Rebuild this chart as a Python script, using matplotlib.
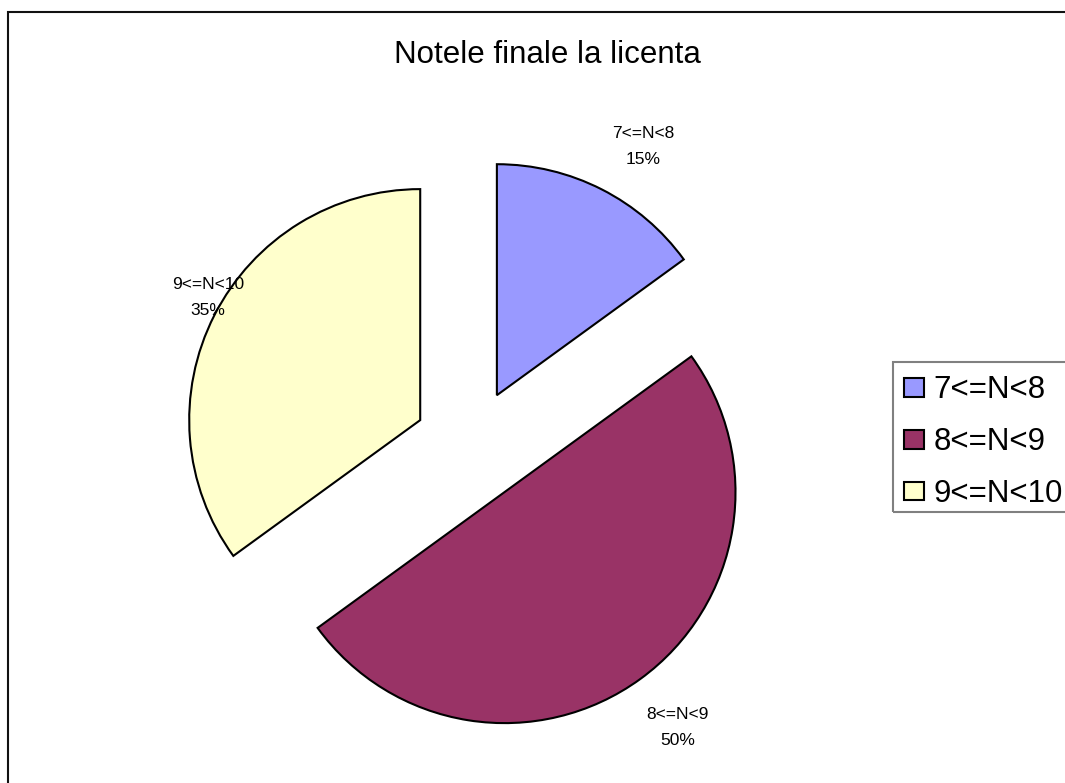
import numpy as np
import matplotlib
matplotlib.use("Agg")
import matplotlib.pyplot as plt
from matplotlib.patches import Rectangle

plt.rcParams['font.family'] = ['Liberation Sans', 'DejaVu Sans']

# data
categories = ["7<=N<8", "8<=N<9", "9<=N<10"]
values = [15, 50, 35]
colors = ["#9999FF", "#993366", "#FFFFCC"]
title = "Notele finale la licenta"

W, H = 1065, 783
fig = plt.figure(figsize=(W / 100, H / 100), dpi=100)
ax = fig.add_axes([0, 0, 1, 1])

radius = 231
center = (471, H - 446)
# explode is in data units (pixels here), not a fraction of radius
wedges, _ = ax.pie(values, colors=colors, startangle=90, counterclock=False,
                   radius=radius, center=center, explode=[57] * 3,
                   wedgeprops=dict(edgecolor="black", linewidth=1.5))

ax.set_xlim(0, W)
ax.set_ylim(0, H)
ax.set_aspect("equal")
ax.axis("off")

# data labels outside each slice (distance in radii, small angle tweak in deg)
label_dist = [1.25, 1.265, 1.06]
label_turn = [-3.5, 0.3, -3.0]
total = sum(values)
for w, cat, v, d, t in zip(wedges, categories, values, label_dist, label_turn):
    ang = np.deg2rad((w.theta1 + w.theta2) / 2 + t)
    cx, cy = w.center
    x = cx + d * radius * np.cos(ang)
    y = cy + d * radius * np.sin(ang)
    ax.text(x, y, f"{cat}\n{round(100 * v / total)}%", ha="center", va="center",
            fontsize=12.5, linespacing=1.9, color="black")

ax.text(547, H - 55, title, ha="center", va="center", fontsize=22.5, color="black")

# outer chart border
ax.add_patch(Rectangle((8, -20), W + 20, H - 12 + 20, fill=False,
                       edgecolor="#111111", linewidth=1.5, clip_on=False))

# legend box
ax.add_patch(Rectangle((893, H - 512), 200, 150, fill=False,
                       edgecolor="#808080", linewidth=1.5, clip_on=False))
leg = ax.legend(wedges, categories, loc="upper left",
                bbox_to_anchor=(895 / W, 1 - 366 / H), frameon=False,
                fontsize=22.5, handlelength=0.64, handleheight=0.55,
                handletextpad=0.29, labelspacing=0.7, borderaxespad=0,
                borderpad=0.3)

fig.savefig("out.png", dpi=100)
